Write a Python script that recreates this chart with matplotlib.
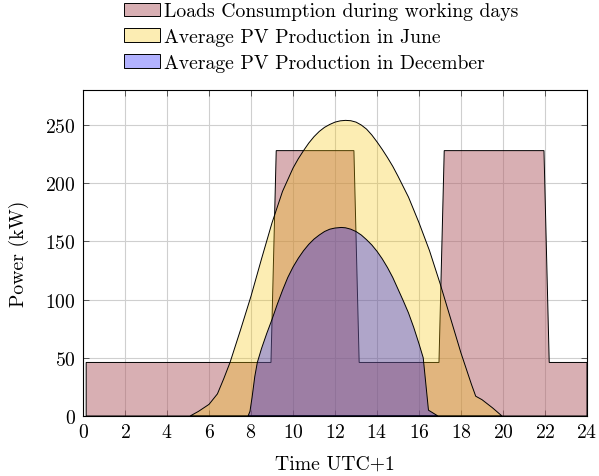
import matplotlib
matplotlib.use("Agg")
import matplotlib.pyplot as plt
from matplotlib.patches import Patch

plt.rcParams['font.family'] = 'serif'
plt.rcParams['font.serif'] = ['cmr10']
plt.rcParams['axes.formatter.use_mathtext'] = True
plt.rcParams['mathtext.fontset'] = 'cm'

# Loads consumption during working days (kW)
load_t = [0.15, 0.15, 8.95, 9.2, 12.9, 13.15, 16.95, 17.2, 21.95, 22.2, 24.0, 24.0]
load_p = [0, 46, 46, 228, 228, 46, 46, 228, 228, 46, 46, 0]

# Average PV production in June (kW)
june_t = [5.1, 5.5, 6.0, 6.4, 6.7, 7.0, 7.5, 8.0, 8.5, 9.0, 9.5,
          10.0, 10.25, 10.5, 10.75, 11.0, 11.25, 11.5, 11.75, 12.0, 12.25, 12.5, 12.75,
          13.0, 13.25, 13.5, 13.75, 14.0, 14.25, 14.5, 14.75, 15.0,
          15.5, 16.0, 16.5, 17.0, 17.25, 17.5, 18.0, 18.5, 18.7, 19.0, 19.5, 19.95]
june_p = [0, 4, 10, 19, 32, 46, 74, 103, 135, 166, 193,
          213, 221, 228, 234.5, 240, 244.5, 248, 250.5, 252.5, 253.6, 254, 253.7,
          252.5, 250, 246.5, 241.5, 235.5, 229, 222, 214.5, 206,
          188, 166, 142, 114, 99, 84, 54, 27, 17, 14, 7, 0]

# Average PV production in December (kW)
dec_t = [7.86, 7.95, 8.05, 8.18, 8.3, 8.5, 8.75, 9.0, 9.25, 9.5, 9.75,
         10.0, 10.25, 10.5, 10.75, 11.0, 11.25, 11.5, 11.75, 12.0, 12.3, 12.5, 12.75,
         13.0, 13.25, 13.5, 13.75, 14.0, 14.25, 14.5, 14.75, 15.0, 15.25, 15.5, 15.75,
         16.0, 16.2, 16.45, 16.9]
dec_p = [0, 4, 16, 34, 46, 58, 71, 83, 96, 108, 119,
         128, 135.5, 142, 147.5, 152, 155.5, 158.5, 160.5, 161.5, 162, 161.7, 160.5,
         158.5, 155.5, 151.5, 147, 141.5, 135, 127.5, 119, 109, 99, 88.5, 76,
         62, 50, 5, 0]

labels = ["Loads Consumption during working days",
          "Average PV Production in June",
          "Average PV Production in December"]

c_load = (179/255, 97/255, 105/255, 0.5)
c_june = (248/255, 198/255, 5/255, 0.3)
c_dec = (0.0, 0.0, 1.0, 0.3)

FS = 14.2

fig = plt.figure(figsize=(5.99, 4.77), dpi=100)
ax = fig.add_axes([0.1386, 0.1258, 0.8414, 0.6832])

ax.set_axisbelow(True)
ax.grid(True, color='#cfcfcf', linewidth=0.8)

ax.fill(load_t, load_p, facecolor=c_load, edgecolor='black', linewidth=0.7, zorder=2)
ax.fill([june_t[0]] + june_t, [0] + june_p, facecolor=c_june, edgecolor='black', linewidth=0.7, zorder=3)
ax.fill([dec_t[0]] + dec_t, [0] + dec_p, facecolor=c_dec, edgecolor='black', linewidth=0.7, zorder=4)

ax.set_xlim(0, 24)
ax.set_ylim(0, 280)
ax.set_xticks(range(0, 25, 2))
ax.set_yticks(range(0, 251, 50))
ax.tick_params(direction='in', top=True, right=True, length=4, width=0.6,
               labelsize=FS, color='#444444', pad=5)
for s in ax.spines.values():
    s.set_linewidth(0.8)

ax.set_xlabel("Time UTC+1", fontsize=FS, labelpad=10)
ax.set_ylabel("Power (kW)", fontsize=FS, labelpad=12)

handles = [Patch(facecolor=c, edgecolor='black', linewidth=0.7) for c in (c_load, c_june, c_dec)]
fig.legend(handles, labels, loc='upper left', bbox_to_anchor=(0.184, 1.022),
           frameon=False, fontsize=FS, handlelength=1.8, handleheight=0.7,
           handletextpad=0.25, labelspacing=0.4, borderpad=0.2)

fig.savefig("out.png", dpi=100)
